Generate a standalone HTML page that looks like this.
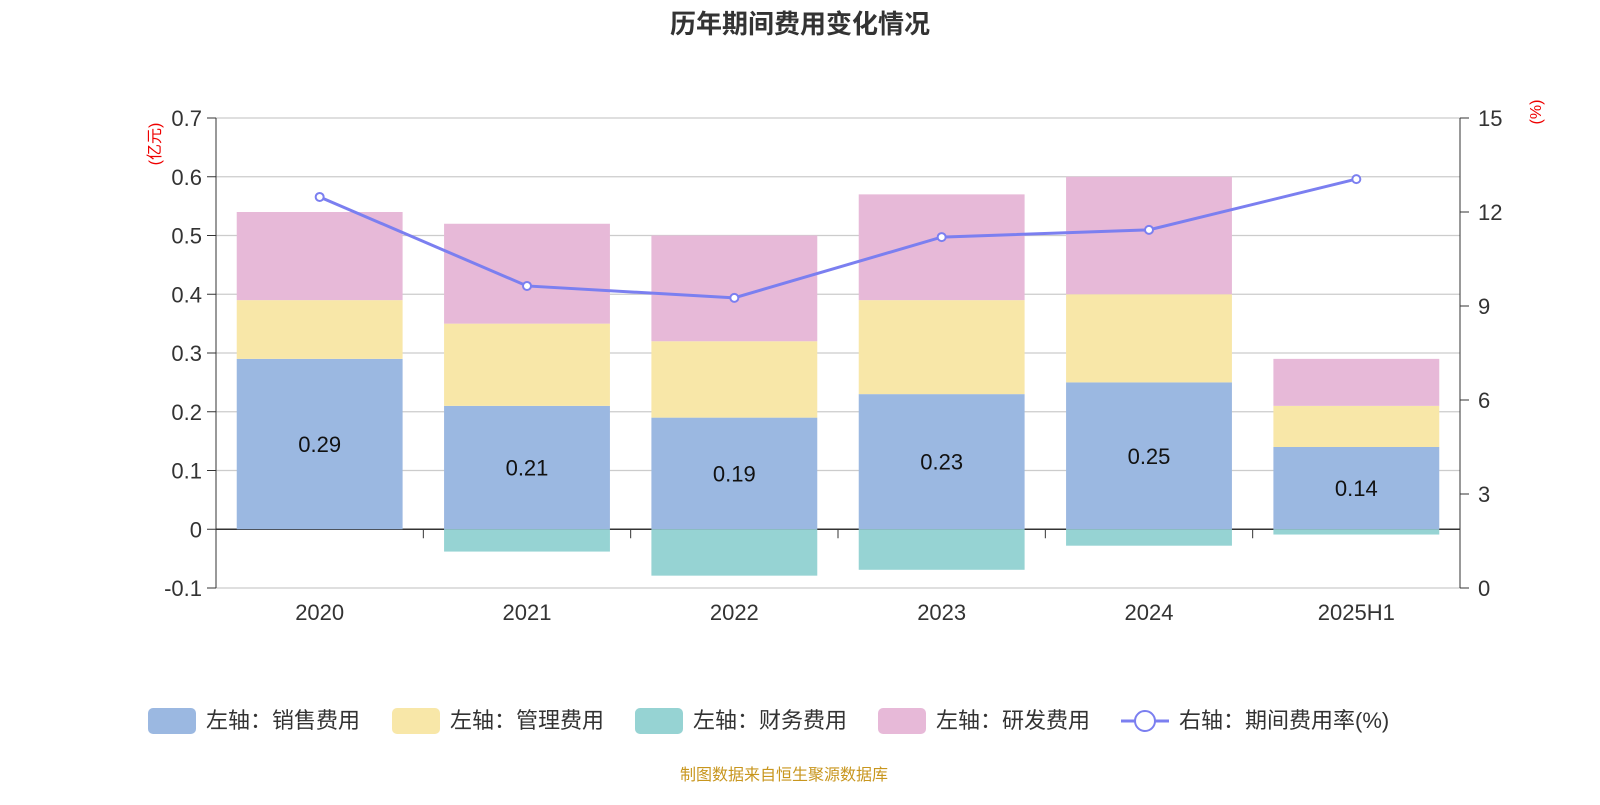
<!DOCTYPE html>
<html><head><meta charset="utf-8"><style>
body{margin:0;background:#fff;width:1600px;height:800px;overflow:hidden;font-family:"Liberation Sans","Noto Sans CJK SC",sans-serif;}
</style></head><body>
<svg id="c" width="1600" height="800" font-family="Liberation Sans, Noto Sans CJK SC, sans-serif">
<text x="800" y="33" text-anchor="middle" font-size="26" font-weight="bold" fill="#333">历年期间费用变化情况</text>
<text transform="translate(160,144) rotate(-90)" text-anchor="middle" font-size="16" fill="#e00">(亿元)</text>
<text transform="translate(1541,112) rotate(-90)" text-anchor="middle" font-size="16" fill="#e00">(%)</text>
<g id="grid"></g><g id="bars"></g><g id="axes"></g><g id="line"></g>
<g id="legend" font-size="22" fill="#333">
<rect x="148" y="708" width="48" height="26" rx="5" fill="#9bb8e1"/>
<text x="206" y="728">左轴：销售费用</text>
<rect x="392" y="708" width="48" height="26" rx="5" fill="#f8e7a8"/>
<text x="450" y="728">左轴：管理费用</text>
<rect x="635" y="708" width="48" height="26" rx="5" fill="#96d3d3"/>
<text x="693" y="728">左轴：财务费用</text>
<rect x="878" y="708" width="48" height="26" rx="5" fill="#e7b9d8"/>
<text x="936" y="728">左轴：研发费用</text>
<line x1="1121" y1="721" x2="1169" y2="721" stroke="#7b7ff0" stroke-width="3"/>
<circle cx="1145" cy="721" r="10" fill="#fff" stroke="#7b7ff0" stroke-width="2"/>
<text x="1179" y="728">右轴：期间费用率(%)</text>
</g>
<text x="784" y="780" text-anchor="middle" font-size="16" fill="#c8961e">制图数据来自恒生聚源数据库</text>
</svg>
<script>
const categories=["2020","2021","2022","2023","2024","2025H1"];
const sales=[0.29,0.21,0.19,0.23,0.25,0.14];
const admin=[0.10,0.14,0.13,0.16,0.15,0.07];
const finance=[0,-0.038,-0.079,-0.069,-0.028,-0.009];
const rd=[0.15,0.17,0.18,0.18,0.20,0.08];
const rate=[12.48,9.64,9.26,11.2,11.43,13.05];
const leftTicks=[-0.1,0,0.1,0.2,0.3,0.4,0.5,0.6,0.7];
const rightTicks=[0,3,6,9,12,15];
const L=216,R=1460,T=118,B=588;
const y=v=>B-(v+0.1)/0.8*(B-T);
const y2=v=>B-v/15*(B-T);
const bw=(R-L)/categories.length;
const xc=i=>L+bw*(i+0.5);
const NS="http://www.w3.org/2000/svg";
function mk(p,tag,a){const e=document.createElementNS(NS,tag);for(const k in a)e.setAttribute(k,a[k]);document.getElementById(p).appendChild(e);return e;}
leftTicks.forEach(t=>{
 const l=mk('grid','line',{x1:L,x2:R,y1:y(t),y2:y(t),stroke:t===0?'#333':'#ccc','stroke-width':t===0?1.5:1.2});
 
 
 const tk=mk('axes','line',{x1:L-9,x2:L,y1:y(t),y2:y(t),stroke:'#333'});
 
 
 const tx=mk('axes','text',{x:L-14,y:y(t)+8,'text-anchor':'end','font-size':22,fill:'#333'});
 tx.textContent=String(t);
 
 
});
rightTicks.forEach(t=>{
 const tk=mk('axes','line',{x1:R,x2:R+9,y1:y2(t),y2:y2(t),stroke:'#333'});
 
 
 const tx=mk('axes','text',{x:R+18,y:y2(t)+8,'font-size':22,fill:'#333'});
 tx.textContent=String(t);
 
 
});
let a=mk('axes','line',{x1:L,x2:L,y1:T,y2:B,stroke:'#333'});


a=mk('axes','line',{x1:R,x2:R,y1:T,y2:B,stroke:'#333'});


for(let i=0;i<=categories.length;i++){
 const tk=mk('axes','line',{x1:L+bw*i,x2:L+bw*i,y1:y(0),y2:y(0)+9,stroke:'#333'});
 
 
}
const bwid=bw*0.8;
categories.forEach((c,i)=>{
 const x0=xc(i)-bwid/2;
 const segs=[[0,sales[i],'#9bb8e1','bar-sales'],[sales[i],sales[i]+admin[i],'#f8e7a8','bar-admin'],[sales[i]+admin[i],sales[i]+admin[i]+rd[i],'#e7b9d8','bar-rd'],[finance[i],0,'#96d3d3','bar-finance']];
 segs.forEach(s=>{
  const r=mk('bars','rect',{x:x0,width:bwid,y:y(s[1]),height:Math.max(0,y(s[0])-y(s[1])),fill:s[2]});
  
  
 });
 const v=mk('bars','text',{x:xc(i),y:y(sales[i]/2)+8,'text-anchor':'middle','font-size':22,fill:'#111'});
 v.textContent=sales[i].toFixed(2);
 
 
 const tx=mk('axes','text',{x:xc(i),y:620,'text-anchor':'middle','font-size':22,fill:'#333'});
 tx.textContent=c;
 
 
});
const pl=mk('line','polyline',{points:rate.map((r,i)=>xc(i)+','+y2(r)).join(' '),fill:'none',stroke:'#7b7ff0','stroke-width':3});


rate.forEach((r,i)=>{
 const p=mk('line','circle',{cx:xc(i),cy:y2(r),r:4,fill:'#fff',stroke:'#7b7ff0','stroke-width':2});
 
 
});
</script>
</body></html>
